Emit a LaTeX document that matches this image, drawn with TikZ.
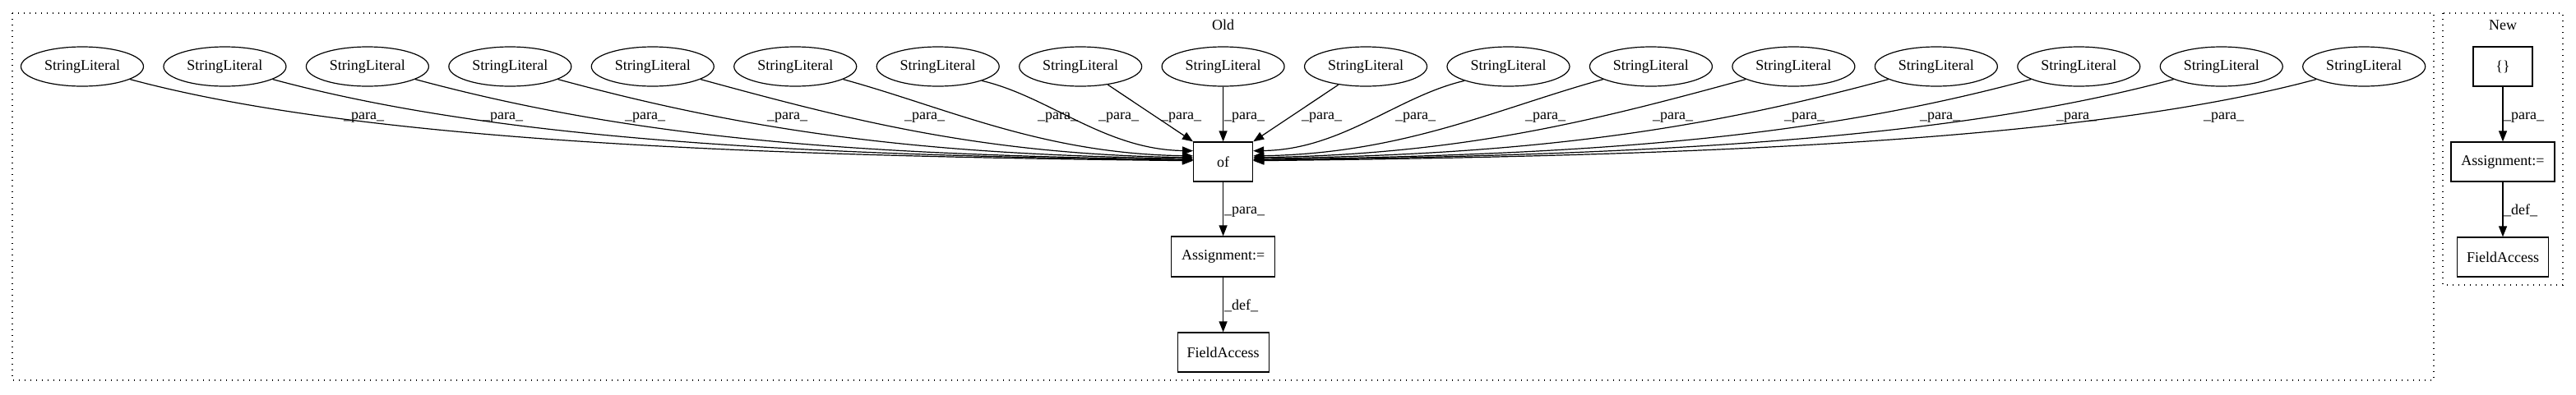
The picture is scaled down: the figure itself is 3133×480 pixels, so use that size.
\documentclass[tikz,border=0pt]{standalone}
\usepackage{fontspec}
\setmainfont{Liberation Serif}
\usetikzlibrary{arrows.meta,shapes.geometric}
\begin{document}
\begin{tikzpicture}[x=1pt,y=-1pt,
  every node/.style={font=\fontsize{18}{20}\selectfont},
  lit/.style={draw, ellipse, line width=1.2pt, minimum width=149pt, minimum height=48pt, inner sep=0pt},
  box/.style={draw, rectangle, line width=1.2pt, minimum height=48pt, inner sep=0pt},
  edge/.style={line width=1.2pt, -{Triangle[length=13pt,width=10pt]}},
  elab/.style={anchor=base west, inner sep=0pt},
  cluster/.style={line width=1.4pt, dash pattern=on 1.4pt off 5.6pt}]
\useasboundingbox (0,0) rectangle (3133,480);
% clusters
\draw[cluster] (15,16) rectangle (2960,463);
\draw[cluster] (2971,16) rectangle (3117,347);
\node[anchor=base] (oldlab) at (1487.6,36) {Old};
\node[anchor=base] (newlab) at (3044,36) {New};
% string literals
\foreach \k in {1,...,17} {
  \node[lit] (s\k) at ({100+(\k-1)*173.45},81) {StringLiteral};
}
\node[box, minimum width=72pt] (of) at (1487.6,197) {of};
\node[box, minimum width=126pt, minimum height=49pt] (asg) at (1487.6,312.5) {Assignment:=};
\node[box, minimum width=111pt] (fa) at (1487.6,429) {FieldAccess};
% new
\node[box, minimum width=72pt] (nb) at (3044,81) {\{\}};
\node[box, minimum width=126pt] (nasg) at (3044,197) {Assignment:=};
\node[box, minimum width=111pt] (nfa) at (3044,313) {FieldAccess};
% left edges
\draw[edge] (s1.-15) .. controls (430,170) and (896,190) .. (of.178);
\draw[edge] (s2.-15) .. controls (603,170) and (970,189) .. (of.177);
\draw[edge] (s3.-15) .. controls (777,170) and (1045,188.5) .. (of.176);
\draw[edge] (s4.-15) .. controls (912,160) and (1119,188.5) .. (of.174);
\draw[edge] (s5.-15) .. controls (1033,146) and (1194,188) .. (of.172);
\draw[edge] (s6.-15) .. controls (1154,132) and (1268,187) .. (of.169);
\draw[edge] (s7.-18) .. controls (1275,117) and (1343,182) .. (of.160);
\draw[edge] (s8) -- (of.north west);
\draw[edge] (s9) -- (of);
\draw[edge] (s10) -- (of.north east);
% right edges
\draw[edge] (s11.198) .. controls (1700.2,117) and (1632.2,182) .. (of.20);
\draw[edge] (s12.195) .. controls (1821.2,132) and (1707.2,187) .. (of.11);
\draw[edge] (s13.195) .. controls (1942.2,146) and (1781.2,188) .. (of.8);
\draw[edge] (s14.195) .. controls (2063.2,160) and (1856.2,188.5) .. (of.6);
\draw[edge] (s15.195) .. controls (2198.2,170) and (1930.2,188.5) .. (of.4);
\draw[edge] (s16.195) .. controls (2372.2,170) and (2005.2,189) .. (of.3);
\draw[edge] (s17.195) .. controls (2545.2,170) and (2079.2,190) .. (of.2);
% edge labels top row
\foreach \x [count=\i] in {418,587,760,933,1100,1262,1336,1412,1489,1583,1697,1855,2010,2170,2335,2501,2680} {
  \node[elab] (p\i) at (\x,145) {\_para\_};
}
% lower edges
\draw[edge] (of) -- (asg);
\node[elab] (pofl) at (1489,260) {\_para\_};
\draw[edge] (asg) -- (fa);
\node[elab] (defl) at (1489,377) {\_def\_};
\draw[edge] (nb) -- (nasg);
\node[elab] (npl) at (3045,145) {\_para\_};
\draw[edge] (nasg) -- (nfa);
\node[elab] (ndl) at (3045,261) {\_def\_};
\end{tikzpicture}
\end{document}
